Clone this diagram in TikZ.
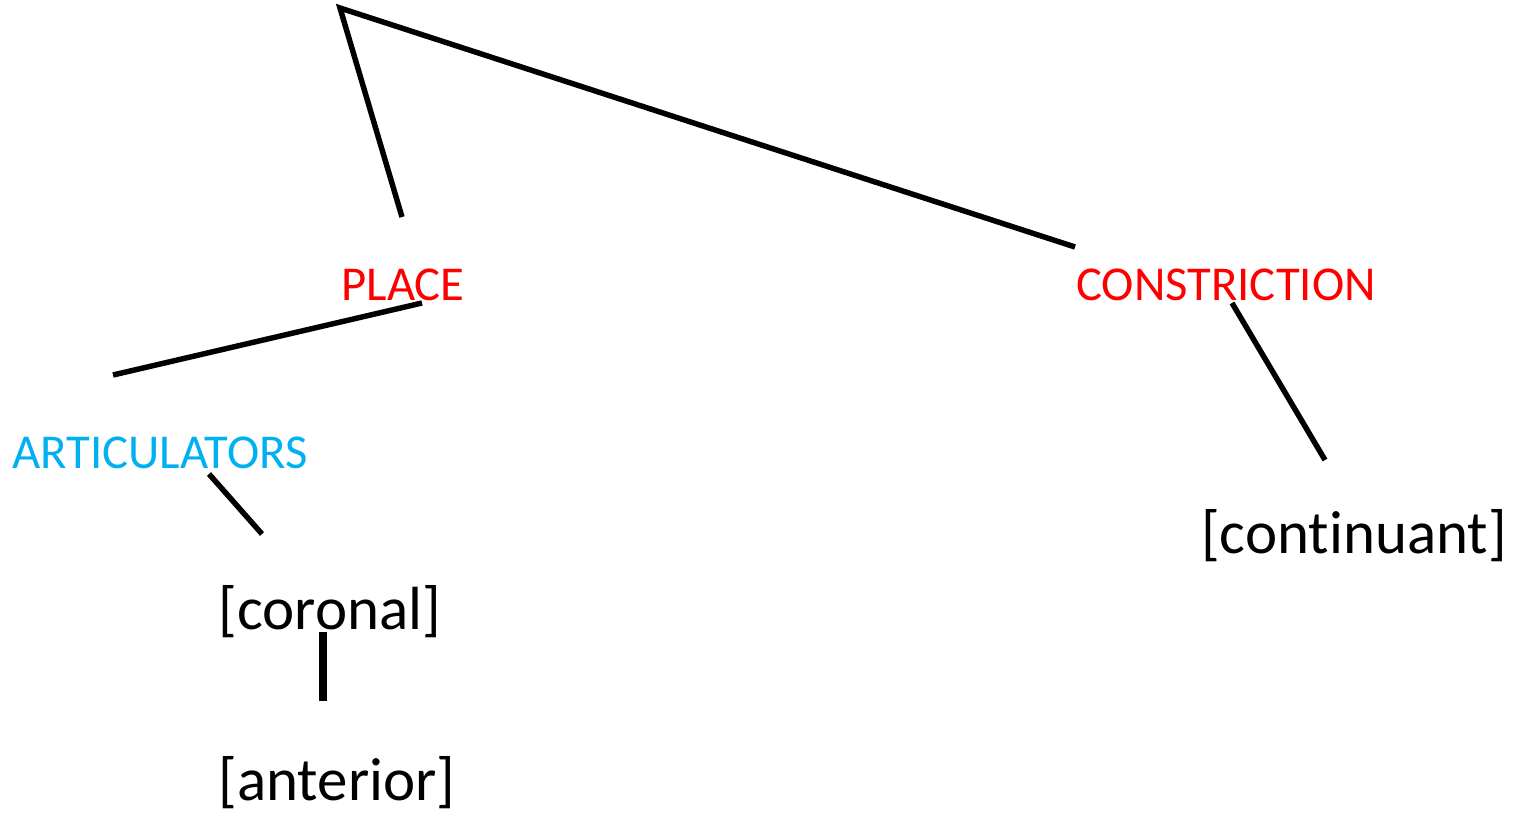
\documentclass[tikz,border=0pt]{standalone}
\usepackage{fontspec}
\setmainfont{Carlito}[Ligatures={NoCommon}]
\definecolor{labred}{RGB}{255,0,0}
\definecolor{labcyan}{RGB}{0,176,240}
\begin{document}
\begin{tikzpicture}[x=0.75pt,y=-0.75pt,
  cat/.style={inner sep=0pt,anchor=center,font=\fontsize{36.5}{40}\selectfont},
  feat/.style={inner sep=0pt,anchor=center,font=\fontsize{45.7}{50}\selectfont,text=black},
  branch/.style={line width=4.1pt,black}]
\useasboundingbox (0,0) rectangle (1530,816);
\node[cat,text=labred] (place) at (403,285) {PLACE};
\node[cat,text=labred] (constr) at (1226,285) {CONSTRICTION};
\node[cat,text=labcyan] (artic) at (160,453) {ARTICULATORS};
\node[feat] (cont) at (1354,536) {[continuant]};
\node[feat] (coron) at (330,612) {[coronal]};
\node[feat] (anter) at (337,783) {[anterior]};
\coordinate (root) at (340,8);
\coordinate (placeTop) at (402,217);
\coordinate (constrTop) at (1075,247);
\coordinate (placeBot) at (422,303);
\coordinate (articTop) at (113,375);
\coordinate (articBot) at (209,474);
\coordinate (coronTop) at (262,534);
\coordinate (coronBot) at (323,632);
\coordinate (anterTop) at (323,701);
\coordinate (constrBot) at (1232,303);
\coordinate (contTop) at (1325,460);
\draw[branch] (placeTop) -- (root) -- (constrTop);
\draw[branch] (placeBot) -- (articTop);
\draw[branch] (articBot) -- (coronTop);
\draw[branch,line width=6pt] (coronBot) -- (anterTop);
\draw[branch] (constrBot) -- (contTop);
\end{tikzpicture}
\end{document}
